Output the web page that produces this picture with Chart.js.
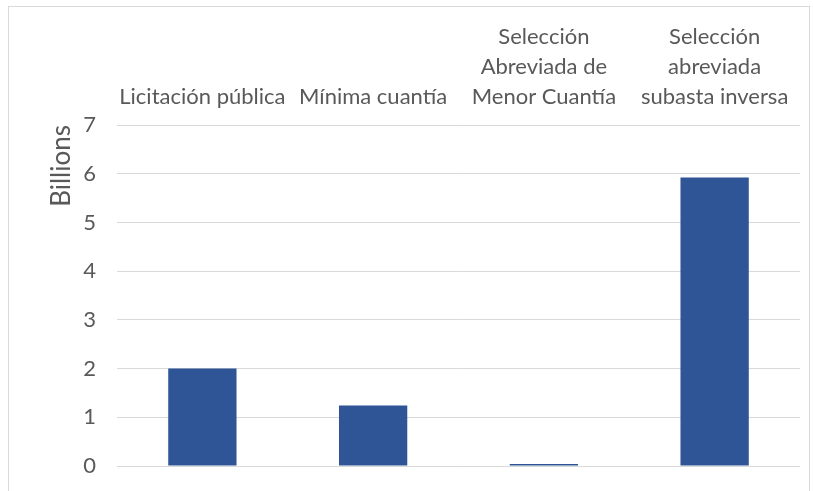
<!DOCTYPE html>
<html>
<head>
<meta charset="utf-8">
<script src="https://cdn.jsdelivr.net/npm/chart.js@4/dist/chart.umd.min.js"></script>
<style>
  html, body { margin: 0; padding: 0; background: #fff; }
  #frame {
    position: absolute; left: 8px; top: 6px;
    width: 802px; height: 520px;
    border: 1px solid #d9d9d9; box-sizing: border-box;
  }
  #wrap { position: absolute; left: 0; top: 0; width: 813px; height: 491px; }
</style>
</head>
<body>
<div id="frame"></div>
<div id="wrap"><canvas id="chart" width="813" height="491"></canvas></div>
<script>
// Chart data (values in billions)
const categories = [
  'Licitación pública',
  'Mínima cuantía',
  ['Selección', 'Abreviada de', 'Menor Cuantía'],
  ['Selección', 'abreviada', 'subasta inversa']
];
const values = [2.0, 1.24, 0.04, 5.92];
const yTicks = [0, 1, 2, 3, 4, 5, 6, 7];

const barColor = '#2f5597';
const textColor = '#595959';
const gridColor = '#d9d9d9';
const fontFamily = 'Lato, "Open Sans", sans-serif';

const ctx = document.getElementById('chart').getContext('2d');
new Chart(ctx, {
  type: 'bar',
  data: {
    labels: categories,
    datasets: [{
      data: values,
      backgroundColor: barColor,
      categoryPercentage: 1,
      barPercentage: 0.4
    }]
  },
  options: {
    responsive: false,
    animation: false,
    layout: { padding: { left: 46, right: 13, top: 10, bottom: 25 } },
    plugins: { legend: { display: false }, tooltip: { enabled: false } },
    scales: {
      x: {
        position: 'top',
        grid: { display: false },
        border: { display: false },
        afterFit: axis => {
          // keep the plot area fixed, labels may overflow a little
          axis.height = 115;
          axis.paddingLeft = 0;
          axis.paddingRight = 0;
        },
        ticks: {
          color: textColor,
          font: { family: fontFamily, size: 22, lineHeight: 1.36 },
          maxRotation: 0,
          autoSkip: false,
          padding: 5
        }
      },
      y: {
        min: 0,
        max: 7,
        afterBuildTicks: axis => { axis.ticks = yTicks.map(v => ({ value: v })); },
        afterFit: axis => {
          axis.width = 71;
          axis.paddingTop = 0;
          axis.paddingBottom = 0;
        },
        grid: { color: gridColor, lineWidth: 1, drawTicks: false },
        border: { display: false },
        title: {
          display: true,
          text: 'Billions',
          align: 'end',
          color: textColor,
          font: { family: fontFamily, size: 26 },
          padding: { top: 0, bottom: 6 }
        },
        ticks: {
          color: textColor,
          font: { family: fontFamily, size: 22 },
          padding: 21
        }
      }
    }
  }
});
</script>
</body>
</html>
